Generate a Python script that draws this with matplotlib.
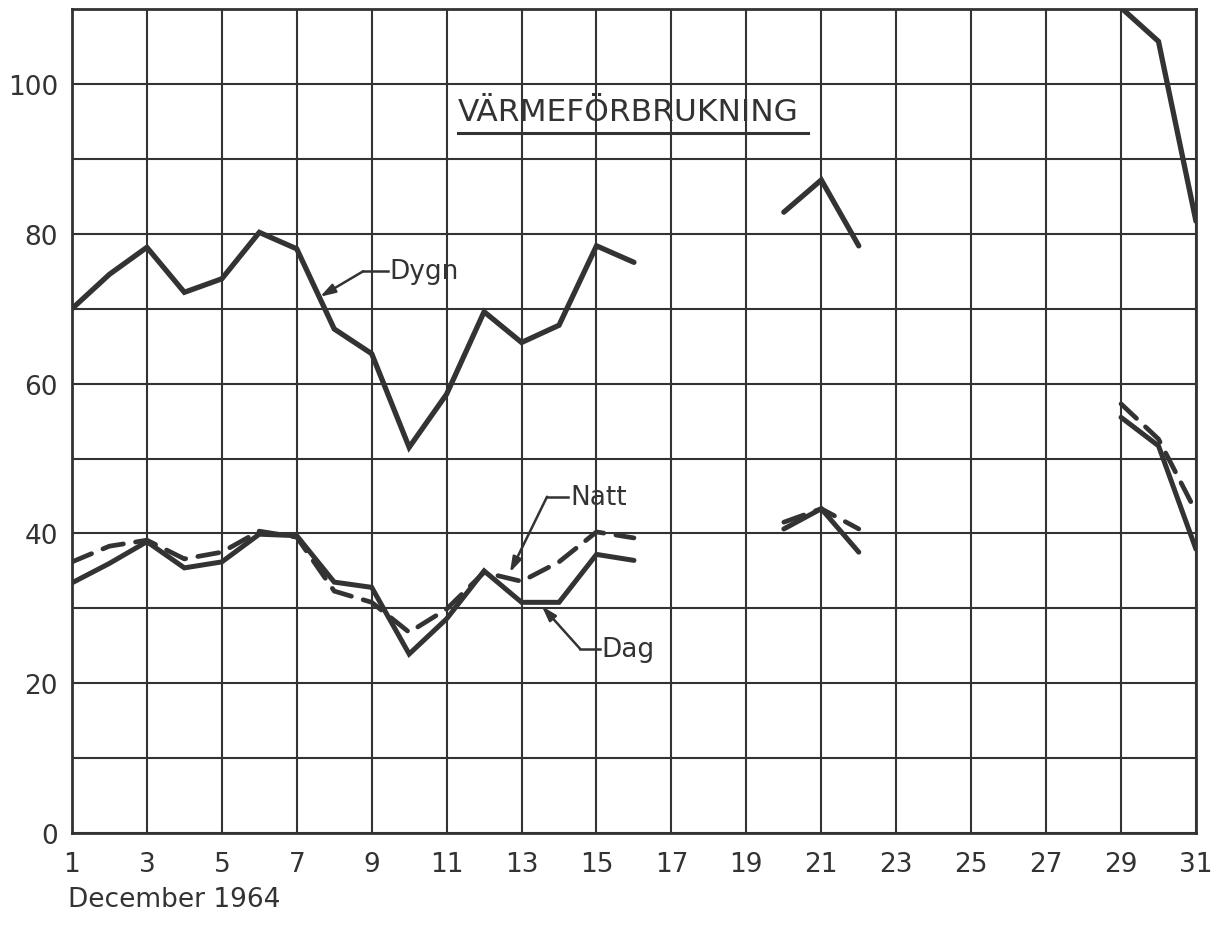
import numpy as np
import matplotlib
matplotlib.use("Agg")
import matplotlib.pyplot as plt

# Daily heat consumption, December 1964 (NaN = no reading)
days = list(range(1, 32))
nan = np.nan

dygn = [70.0, 74.6, 78.2, 72.2, 74.0, 80.2, 78.0, 67.3, 64.0, 51.5,
        58.6, 69.6, 65.5, 67.8, 78.4, 76.2, nan, nan, nan, 82.9,
        87.2, 78.4, nan, nan, nan, nan, nan, nan, 110.2, 105.7, 81.7]

dag = [33.4, 36.0, 38.9, 35.4, 36.2, 39.9, 39.7, 33.5, 32.8, 23.9,
       28.6, 35.0, 30.8, 30.8, 37.2, 36.4, nan, nan, nan, 40.6,
       43.3, 37.5, nan, nan, nan, nan, nan, nan, 55.5, 51.7, 37.9]

natt = [36.2, 38.3, 39.1, 36.6, 37.5, 40.3, 39.5, 32.3, 30.8, 26.8,
        29.9, 34.8, 33.6, 36.2, 40.2, 39.4, nan, nan, nan, 41.5,
        43.3, 40.6, nan, nan, nan, nan, nan, nan, 57.3, 52.6, 42.9]

x_ticks = list(range(1, 32, 2))
y_ticks = [0, 20, 40, 60, 80, 100]

ink = "#333333"
font = "DejaVu Sans"

fig = plt.figure(figsize=(12.26, 9.28), dpi=100)
fig.patch.set_facecolor("white")
ax = fig.add_axes([0.0587, 0.1013, 0.9168, 0.8877])

ax.set_xlim(1, 31)
ax.set_ylim(0, 110)

# grid: every second day, every 10 units
for xv in x_ticks:
    ax.axvline(xv, color=ink, lw=1.5, zorder=1)
for yv in range(0, 111, 10):
    ax.axhline(yv, color=ink, lw=1.5, zorder=1)

for s in ax.spines.values():
    s.set_color(ink)
    s.set_linewidth(2.0)

ax.plot(days, dygn, color=ink, lw=3.8, solid_joinstyle="miter",
        solid_capstyle="round", zorder=3, clip_on=True)
ax.plot(days, dag, color=ink, lw=3.6, solid_joinstyle="miter",
        solid_capstyle="round", zorder=3)
ax.plot(days, natt, color=ink, lw=3.4, dashes=(4.5, 2.6),
        dash_capstyle="round", zorder=3)

ax.set_xticks(x_ticks)
ax.set_xticklabels([str(d) for d in x_ticks], fontsize=19, family=font, color=ink)
ax.set_yticks(y_ticks)
ax.set_yticklabels([str(v) for v in y_ticks], fontsize=19, family=font, color=ink)
ax.tick_params(length=0, pad=10)
ax.tick_params(axis="x", pad=13)

fig.text(68 / 1226, 1 - 900 / 928, "December 1964", fontsize=19, family=font,
         color=ink, ha="left", va="center")

# title with underline
ax.text(11.3, 95.2, "VÄRMEFÖRBRUKNING", fontsize=22.5, family=font, color=ink,
        ha="left", va="baseline", zorder=4)
ax.plot([11.3, 20.64], [93.5, 93.5], color=ink, lw=2.2, zorder=4)


def leader(label, text_xy, corner, tip):
    tx, ty = text_xy
    ax.text(tx, ty, label, fontsize=19, family=font, color=ink,
            ha="left", va="center", zorder=5)
    ax.plot([tx - 0.05, corner[0]], [ty, corner[1]], color=ink, lw=1.8, zorder=5)
    ax.annotate("", xy=tip, xytext=corner,
                arrowprops=dict(arrowstyle="-|>,head_length=0.9,head_width=0.28",
                                color=ink, lw=1.8, shrinkA=0, shrinkB=0),
                zorder=5)


leader("Dygn", (9.48, 75.0), (8.77, 75.0), (7.62, 71.6))
leader("Natt", (14.30, 44.9), (13.68, 44.9), (12.69, 34.8))
leader("Dag", (15.14, 24.6), (14.56, 24.6), (13.54, 30.3))

fig.savefig("out.png", dpi=100, facecolor="white")
